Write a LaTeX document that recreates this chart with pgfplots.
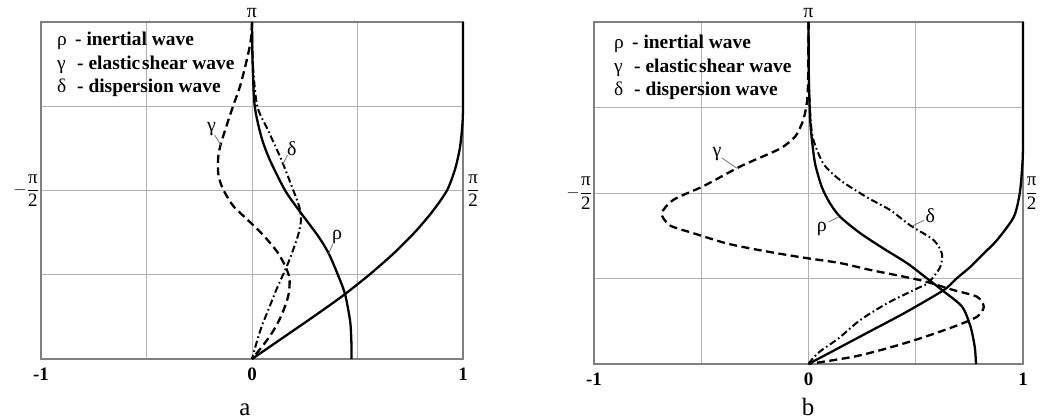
\documentclass[border=0pt]{standalone}
\usepackage{fontspec}
\setmainfont{Liberation Serif}
\usepackage{pgfplots}
\pgfplotsset{compat=1.18}

\pgfplotsset{
  wavepanel/.style={
    scale only axis, clip=false,
    xmin=-1, xmax=1, ymin=0, ymax=4,
    xtick={-1,-0.5,0,0.5,1}, xticklabels={-1,,0,,1},
    ytick={1,2,3}, yticklabels={,,},
    grid=major,
    major grid style={draw=black!30, line width=0.8bp},
    axis line style={draw=black!50, line width=1.1bp},
    major tick length=0pt,
    xticklabel style={font=\fontsize{19}{19}\selectfont\bfseries, yshift=-5bp},
  },
}
\tikzset{
  inertial/.style={black, line width=2.3bp, smooth, tension=0.45},
  shear/.style={black, line width=2.3bp, smooth, tension=0.45,
    dash pattern=on 8bp off 4.5bp},
  dispersion/.style={black, line width=2bp, smooth, tension=0.45,
    dash pattern=on 7bp off 3bp on 1.6bp off 3bp},
  leader/.style={draw=black!55, line width=0.8bp},
  greek/.style={font=\fontsize{20}{20}\selectfont, inner sep=0pt},
  frac/.style={font=\fontsize{19}{22}\selectfont},
}

\newcommand{\halfpi}{{\displaystyle\frac{\hbox{π}}{\hbox{2}}}}

\begin{document}
\begin{tikzpicture}
\useasboundingbox (0,0) rectangle (1048bp,420bp);

% ---------------- panel a ----------------
\begin{axis}[wavepanel, at={(41bp,61bp)}, anchor=south west,
  width=422bp, height=337bp]
  % inertial wave, outer branch
  \addplot[inertial, no markers] coordinates {
    (0,0) (0.145,0.25) (0.29,0.5) (0.43,0.75) (0.556,1) (0.67,1.25)
    (0.77,1.5) (0.855,1.75) (0.924,2) (0.962,2.25) (0.985,2.5)
    (0.996,2.75) (1,3) (1,4)};
  % inertial wave, inner branch
  \addplot[inertial, no markers] coordinates {
    (0,4) (0.003,3.5) (0.013,3) (0.045,2.63) (0.085,2.36) (0.157,2)
    (0.224,1.76) (0.316,1.45) (0.364,1.25) (0.407,1) (0.441,0.77)
    (0.465,0.45) (0.471,0.2) (0.472,0)};
  % elastic shear wave
  \addplot[shear, no markers] coordinates {
    (0,4) (-0.005,3.8) (-0.02,3.6) (-0.055,3.25) (-0.09,3.0)
    (-0.123,2.75) (-0.148,2.55) (-0.16,2.4) (-0.16,2.2) (-0.14,2.03)
    (-0.09,1.82) (-0.02,1.65) (0.05,1.48) (0.12,1.27) (0.158,1.1)
    (0.178,0.95) (0.172,0.75) (0.14,0.52) (0.1,0.33) (0.055,0.17) (0,0)};
  % dispersion wave
  \addplot[dispersion, no markers] coordinates {
    (0,4) (0.004,3.5) (0.025,3.0) (0.077,2.71) (0.14,2.36) (0.196,2.0)
    (0.225,1.8) (0.232,1.65) (0.222,1.5) (0.2,1.33) (0.165,1.1)
    (0.12,0.85) (0.08,0.6) (0.045,0.38) (0.02,0.18) (0,0)};

  \node[greek] at (axis cs:-0.192,2.73) {γ};
  \draw[leader] (axis cs:-0.176,2.655) -- (axis cs:-0.144,2.525);
  \node[greek] at (axis cs:0.189,2.50) {δ};
  \draw[leader] (axis cs:0.168,2.42) -- (axis cs:0.146,2.31);
  \node[greek] at (axis cs:0.403,1.45) {ρ};
  \draw[leader] (axis cs:0.384,1.37) -- (axis cs:0.363,1.25);

  \node[anchor=south, font=\fontsize{20}{20}\selectfont, inner sep=4bp]
    at (axis cs:0,4) {π};
  \node[anchor=east, frac, inner sep=2bp] at (axis cs:-1,2) {$-\halfpi$};
  \node[anchor=west, frac, inner sep=4bp] at (axis cs:1,2) {$\halfpi$};
\end{axis}

% ---------------- panel b ----------------
\begin{axis}[wavepanel, at={(594bp,56bp)}, anchor=south west,
  width=429bp, height=342bp]
  % inertial wave, outer branch
  \addplot[inertial, no markers] coordinates {
    (0,0) (0.15,0.2) (0.3,0.4) (0.45,0.6) (0.63,0.864) (0.69,1.0)
    (0.755,1.137) (0.82,1.3) (0.879,1.45) (0.957,1.72) (0.985,2.0)
    (0.996,2.3) (1,2.6) (1,4)};
  % inertial wave, inner branch
  \addplot[inertial, no markers] coordinates {
    (0,4) (0.002,3.3) (0.008,2.85) (0.016,2.62) (0.031,2.34) (0.062,2.07)
    (0.10,1.88) (0.148,1.72) (0.241,1.53) (0.35,1.35) (0.459,1.18)
    (0.553,1.0) (0.63,0.85) (0.716,0.67) (0.755,0.44) (0.775,0.2)
    (0.781,0)};
  % elastic shear wave
  \addplot[shear, no markers] coordinates {
    (0,4) (-0.002,3.3) (-0.008,3.05) (-0.025,2.85) (-0.062,2.66)
    (-0.132,2.52) (-0.257,2.38) (-0.334,2.29) (-0.49,2.08) (-0.63,1.92)
    (-0.684,1.76) (-0.645,1.62) (-0.537,1.53) (-0.381,1.41)
    (-0.225,1.33) (-0.039,1.25) (0.148,1.18) (0.288,1.10) (0.521,0.98)
    (0.677,0.864) (0.786,0.786) (0.817,0.67) (0.786,0.553) (0.677,0.436)
    (0.521,0.30) (0.366,0.183) (0.21,0.085) (0,0)};
  % dispersion wave
  \addplot[dispersion, no markers] coordinates {
    (0,4) (0.002,3.3) (0.01,2.85) (0.023,2.62) (0.07,2.34) (0.148,2.15)
    (0.272,1.95) (0.381,1.80) (0.475,1.62) (0.583,1.45) (0.622,1.29)
    (0.615,1.14) (0.583,1.02) (0.553,0.94) (0.49,0.864) (0.366,0.709)
    (0.241,0.514) (0.14,0.3) (0.055,0.15) (0.015,0.05) (0,0)};

  \node[greek] at (axis cs:-0.427,2.46) {γ};
  \draw[leader] (axis cs:-0.404,2.41) -- (axis cs:-0.334,2.29);
  \node[greek] at (axis cs:0.062,1.585) {ρ};
  \draw[leader] (axis cs:0.093,1.66) -- (axis cs:0.14,1.72);
  \node[greek] at (axis cs:0.568,1.74) {δ};
  \draw[leader] (axis cs:0.537,1.68) -- (axis cs:0.482,1.61);

  \node[anchor=south, font=\fontsize{20}{20}\selectfont, inner sep=4bp]
    at (axis cs:0,4) {π};
  \node[anchor=east, frac, inner sep=2bp] at (axis cs:-1,2) {$-\halfpi$};
  \node[anchor=west, frac, inner sep=2.5bp] at (axis cs:1,2) {$\halfpi$};
\end{axis}

% ---------------- legends ----------------
\newcommand{\shearname}{\textbf{- elastic\hspace{-3bp} shear wave}}
\begin{scope}[every node/.style={anchor=base west, inner sep=0pt,
    font=\fontsize{19.5}{19.5}\selectfont}]
  \node at (57bp,374bp)   {\makebox[18bp][l]{ρ}\textbf{- inertial wave}};
  \node at (57bp,350bp)   {\makebox[20bp][l]{γ}\shearname};
  \node at (57bp,327bp)   {\makebox[20bp][l]{δ}\textbf{- dispersion wave}};
  \node at (614bp,371bp)  {\makebox[18bp][l]{ρ}\textbf{- inertial wave}};
  \node at (614bp,347.3bp){\makebox[20bp][l]{γ}\shearname};
  \node at (614bp,324bp)  {\makebox[20bp][l]{δ}\textbf{- dispersion wave}};
\end{scope}

% ---------------- panel captions ----------------
\node[anchor=base, inner sep=0pt, font=\fontsize{25}{25}\selectfont]
  at (245bp,4.5bp) {a};
\node[anchor=base, inner sep=0pt, font=\fontsize{25}{25}\selectfont]
  at (808bp,4.5bp) {b};
\end{tikzpicture}
\end{document}
